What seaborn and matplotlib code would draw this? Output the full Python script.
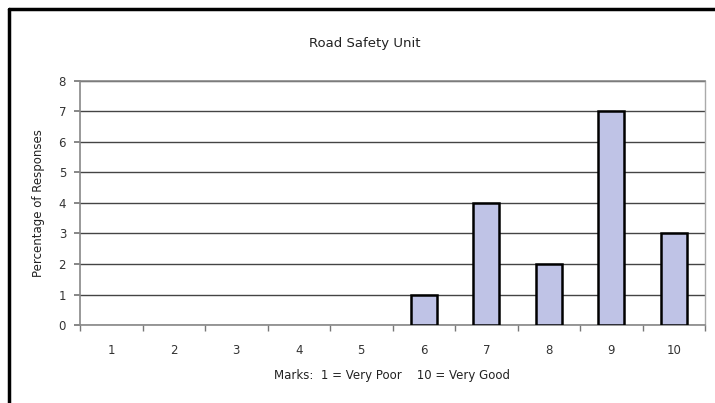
import matplotlib
matplotlib.use("Agg")
import matplotlib.pyplot as plt
import seaborn as sns
import pandas as pd
import numpy as np
from matplotlib.lines import Line2D

categories = ["1", "2", "3", "4", "5", "6", "7", "8", "9", "10"]
values = [0, 0, 0, 0, 0, 1, 4, 2, 7, 3]
yticks = [0, 1, 2, 3, 4, 5, 6, 7, 8]

sns.set_theme(style="white")
plt.rcParams['font.family'] = ['DejaVu Sans']

df = pd.DataFrame({"mark": categories, "value": values})

fig = plt.figure(figsize=(7.15, 4.03), dpi=100)
fig.patch.set_facecolor("white")
ax = fig.add_axes([80/715, 1 - 325/403, 625/715, 244/403])

sns.barplot(data=df, x="mark", y="value", order=categories, color="#BFC3E6",
            saturation=1, width=0.42, edgecolor="black", linewidth=1.8, ax=ax, zorder=3)
for p in ax.patches:
    if p.get_height() == 0:
        p.set_linewidth(0)
        p.set_edgecolor("none")

ax.set_ylim(0, 8)
ax.set_xlim(-0.5, 9.5)
ax.set_yticks(yticks)
ax.set_yticklabels([str(t) for t in yticks], fontsize=8.5, color="#333333")
ax.yaxis.grid(True, color="#444444", linewidth=1.0, zorder=0)
ax.set_axisbelow(True)

ax.set_xticks(range(len(categories)))
ax.set_xticklabels(categories, fontsize=8.5, color="#333333")
ax.tick_params(axis="x", which="major", length=0, pad=14)
ax.set_xticks(np.arange(-0.5, 10, 1), minor=True)
ax.tick_params(axis="x", which="minor", length=4, color="#777777", direction="out", bottom=True)
ax.tick_params(axis="y", length=4, color="#777777", direction="out", left=True, pad=6)

for s in ["left", "bottom"]:
    ax.spines[s].set_color("#888888")
    ax.spines[s].set_linewidth(1.2)
ax.spines["right"].set_color("#aaaaaa")
ax.spines["right"].set_linewidth(1.0)
ax.spines["top"].set_color("#888888")
ax.spines["top"].set_linewidth(1.2)

ax.set_xlabel("Marks:  1 = Very Poor    10 = Very Good", fontsize=8.5, color="#222222", labelpad=8)
ax.set_ylabel("Percentage of Responses", fontsize=8.5, color="#222222", labelpad=10)
fig.text(0.51, 1 - 43/403, "Road Safety Unit", ha="center", va="center", fontsize=9.5, color="#222222")

# outer frame (left and top)
fig.add_artist(Line2D([9/715, 9/715], [0, 1 - 9/403], transform=fig.transFigure, color="black", linewidth=2.5))
fig.add_artist(Line2D([9/715, 1], [1 - 9/403, 1 - 9/403], transform=fig.transFigure, color="black", linewidth=2.5))

fig.savefig("out.png", dpi=100)
